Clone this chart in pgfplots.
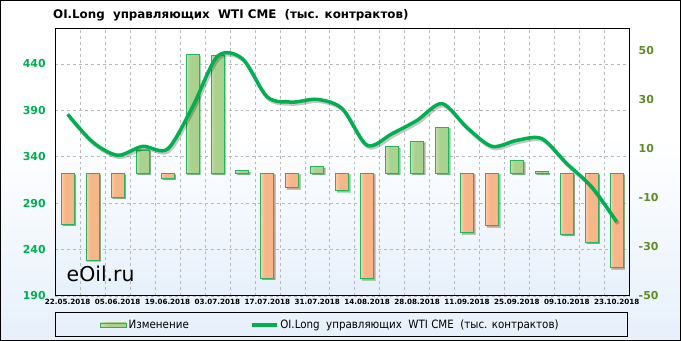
\documentclass[border=0pt]{standalone}
\usepackage{pgfplots}
\pgfplotsset{compat=1.18}
\usepackage{fontspec}
\setmainfont{DejaVu Sans}
\newfontfamily\cond{DejaVu Sans Condensed}
\usetikzlibrary{shadows}
\definecolor{bgblue}{RGB}{214,230,248}
\definecolor{lblgreen}{RGB}{0,176,80}
\definecolor{rlblgreen}{RGB}{94,140,40}
\definecolor{linegreen}{RGB}{0,176,80}
\definecolor{outl}{RGB}{40,180,90}
\definecolor{orlight}{RGB}{252,218,188}
\definecolor{ormain}{RGB}{247,182,136}
\definecolor{ordark}{RGB}{140,95,65}
\definecolor{grlight}{RGB}{208,234,188}
\definecolor{grmain}{RGB}{170,210,142}
\definecolor{grdark}{RGB}{90,130,70}
\pgfdeclareverticalshading{bgshade}{100bp}{color(0bp)=(bgblue); color(25bp)=(bgblue!60!white); color(55bp)=(white); color(100bp)=(white)}
\pgfdeclarehorizontalshading{orshade}{100bp}{color(0bp)=(ormain); color(15bp)=(orlight); color(40bp)=(ormain); color(78bp)=(ormain); color(100bp)=(ordark)}
\pgfdeclarehorizontalshading{grshade}{100bp}{color(0bp)=(grmain); color(15bp)=(grlight); color(40bp)=(grmain); color(78bp)=(grmain); color(100bp)=(grdark)}

\pgfplotsset{
  posbar/.style={ybar, bar width=13bp, bar shift=0pt, draw=outl, line width=0.8bp,
    shading=grshade,
    drop shadow={shadow xshift=1.5bp, shadow yshift=-1.5bp, opacity=0.35, fill=black}},
  negbar/.style={ybar, bar width=13bp, bar shift=0pt, draw=outl, line width=0.8bp,
    shading=orshade,
    drop shadow={shadow xshift=1.5bp, shadow yshift=-1.5bp, opacity=0.35, fill=black}},
  myaxis/.style={at={(55.2bp,45bp)}, anchor=south west,
    scale only axis, width=574bp, height=267.5bp, xmin=-0.5, xmax=22.5},
}

\pgfplotstableread{
x y
0 385.6
1 355.8
2 341.5
3 351.1
4 348.2
5 393.4
6 448
7 445.5
8 404.2
9 398.8
10 401.7
11 391.7
12 352.2
13 364.8
14 379.1
15 397.1
16 371.3
17 351.1
18 357.6
19 359.4
20 332.5
21 307.3
22 269.7
}\linedata

\begin{document}
\begin{tikzpicture}
\shade[shading=bgshade] (0bp,0bp) rectangle (681bp,341bp);
\useasboundingbox (0bp,0bp) rectangle (681bp,341bp);
\draw[black, line width=1bp] (0.5bp,0.5bp) rectangle (680.5bp,340.5bp);
\draw[black, line width=0.8bp] (55bp,4.3bp) rectangle (627bp,28.3bp);

\node[anchor=base west, inner sep=0, font=\bfseries\fontsize{11.9}{14}\selectfont] at (53bp,322.7bp)
  {OI.Long\ \ управляющих\ \ WTI CME\ \ (тыс. контрактов)};

% Axis A: background, grid, left labels, dates
\begin{axis}[myaxis,
  ymin=190, ymax=478,
  axis background/.style={shading=bgshade},
  xtick={0,2,...,22},
  xticklabels={22.05.2018,05.06.2018,19.06.2018,03.07.2018,17.07.2018,31.07.2018,14.08.2018,28.08.2018,11.09.2018,25.09.2018,09.10.2018,23.10.2018},
  minor xtick={0.5,1.5,...,21.5},
  xminorgrids, ymajorgrids,
  ytick={190,240,...,440},
  grid style={dashed, gray!55, line width=0.5bp},
  minor grid style={dashed, gray!55, line width=0.5bp},
  major tick length=0pt, minor tick length=0pt,
  axis line style={black, line width=1bp},
  /pgf/number format/assume math mode=true,
  xticklabel style={font=\bfseries\fontsize{7.2}{9}\selectfont, text=black},
  yticklabel style={font=\bfseries\fontsize{11}{13}\selectfont, text=lblgreen, xshift=-6bp},
]
\end{axis}

% Axis B: bars, right labels
\begin{axis}[myaxis,
  ymin=-50, ymax=59,
  axis y line*=right, axis x line=none,
  y axis line style={draw=none},
  ytick={-50,-30,...,50},
  major tick length=0pt,
  /pgf/number format/assume math mode=true,
  yticklabel style={font=\bfseries\fontsize{11}{13}\selectfont, text=rlblgreen, xshift=6bp},
]
\addplot[negbar] coordinates {(0,-20.8)};
\addplot[negbar] coordinates {(1,-35.3)};
\addplot[negbar] coordinates {(2,-9.8)};
\addplot[posbar] coordinates {(3,9.5)};
\addplot[negbar] coordinates {(4,-2.0)};
\addplot[posbar] coordinates {(5,48.3)};
\addplot[posbar] coordinates {(6,48.0)};
\addplot[posbar] coordinates {(7,1.1)};
\addplot[negbar] coordinates {(8,-42.8)};
\addplot[negbar] coordinates {(9,-5.8)};
\addplot[posbar] coordinates {(10,2.7)};
\addplot[negbar] coordinates {(11,-7.0)};
\addplot[negbar] coordinates {(12,-42.9)};
\addplot[posbar] coordinates {(13,10.9)};
\addplot[posbar] coordinates {(14,13.1)};
\addplot[posbar] coordinates {(15,18.8)};
\addplot[negbar] coordinates {(16,-24.2)};
\addplot[negbar] coordinates {(17,-21.3)};
\addplot[posbar] coordinates {(18,5.2)};
\addplot[posbar] coordinates {(19,0.7)};
\addplot[negbar] coordinates {(20,-24.8)};
\addplot[negbar] coordinates {(21,-28.1)};
\addplot[negbar] coordinates {(22,-38.4)};
\end{axis}

% Axis C: line + legend
\begin{axis}[myaxis,
  ymin=190, ymax=478,
  hide axis, clip=false,
  legend columns=2,
  legend style={at={(axis description cs:0.078,-0.1084)}, anchor=west, draw=none, fill=none,
    font=\cond\fontsize{11.5}{13}\selectfont, inner sep=0pt,
    /tikz/every even column/.append style={column sep=59bp}},
]
\addlegendimage{legend image code/.code={\draw[outl, line width=0.5bp, shading=grshade] (0bp,-2.2bp) rectangle (26bp,2.2bp);}}
\addlegendentry{Изменение}
\addplot[black, opacity=0.22, line width=3.5bp, smooth, xshift=1.5bp, yshift=-2bp, forget plot] table[x=x,y=y] {\linedata};
\addplot[linegreen, line width=3.5bp, smooth,
  legend image code/.code={\draw[line width=3.5bp] (0bp,0bp)--(25bp,0bp);}] table[x=x,y=y] {\linedata};
\addlegendentry{OI.Long\ \ управляющих\ \ WTI CME\ \ (тыс. контрактов)}
\end{axis}

\node[anchor=base west, inner sep=0, font=\fontsize{20.5}{24}\selectfont] at (66.5bp,59.3bp) {eOil.ru};
\end{tikzpicture}
\end{document}
